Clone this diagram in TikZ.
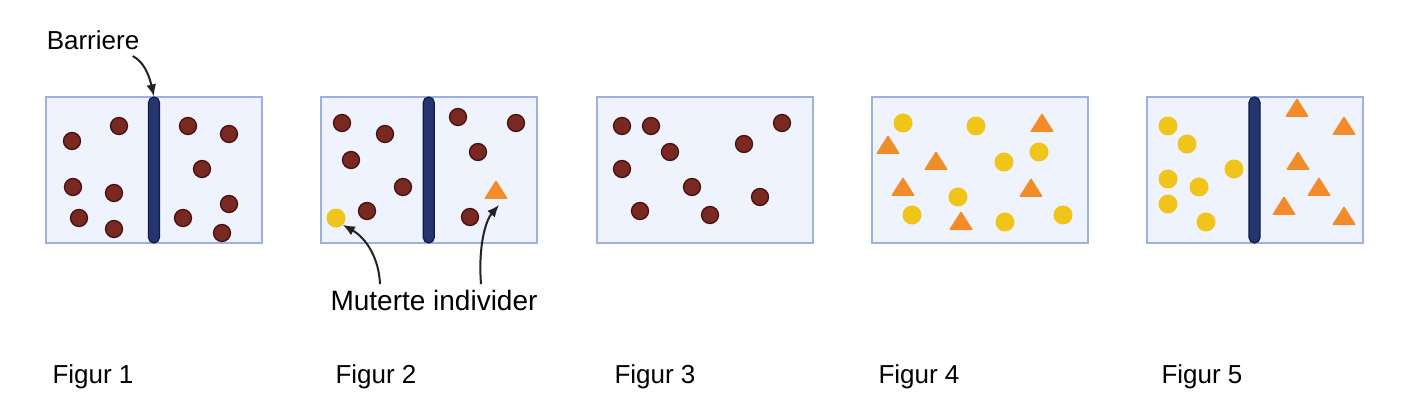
\documentclass[tikz,border=0pt]{standalone}
\usepackage{fontspec}
\setmainfont{Liberation Sans}
\usepackage{tikz}
\usetikzlibrary{arrows.meta,positioning,calc}
\definecolor{boxfill}{RGB}{238,243,253}
\definecolor{boxline}{RGB}{157,176,222}
\definecolor{navy}{RGB}{37,53,112}
\definecolor{navydark}{RGB}{18,26,64}
\definecolor{dotred}{RGB}{122,40,34}
\definecolor{dotrim}{RGB}{72,18,14}
\definecolor{mutyellow}{RGB}{240,196,25}
\definecolor{mutorange}{RGB}{242,140,40}
\definecolor{arrowgrey}{RGB}{34,34,34}

\begin{document}
\begin{tikzpicture}[x=1pt,y=-1pt,font=\fontsize{26}{30}\selectfont,>={Latex[length=12pt,width=10pt]},node distance=57.25pt]
  \tikzstyle{tank}=[draw=boxline,line width=2pt,fill=boxfill,minimum width=216pt,minimum height=146pt,inner sep=0pt]
  \tikzstyle{wall}=[draw=navydark,line width=1.2pt,fill=navy,rounded corners=5.5pt,minimum width=11pt,minimum height=146pt,inner sep=0pt]
  \tikzstyle{rdot}=[circle,draw=dotrim,line width=1.3pt,fill=dotred,minimum size=17pt,inner sep=0pt]
  \tikzstyle{ydot}=[circle,fill=mutyellow,minimum size=19pt,inner sep=0pt]
  \tikzstyle{arr}=[->,draw=arrowgrey,line width=2pt]
  \tikzset{tri/.pic={\fill[mutorange,rounded corners=1pt] (-12,9) -- (12,9) -- (0,-10) -- cycle;}}
  \useasboundingbox (0,0) rectangle (1413,414);

  \node[tank] (f1) at (154,170) {};
  \node[tank,right=of f1] (f2) {};
  \node[tank,right=of f2] (f3) {};
  \node[tank,right=of f3] (f4) {};
  \node[tank,right=of f4] (f5) {};

  \node[wall] (b1) at (f1.center) {};
  \node[wall] (b2) at ($(f2.center)+(-0.5,0)$) {};
  \node[wall] (b5) at ($(f5.center)+(-0.5,0)$) {};

  % figur 1
  \foreach \x/\y in {72/141,119/126,188/126,229/134,202/169,73/187,114/193,229/204,79/218,114/229,183/218,222/233}
    \node[rdot] at (\x,\y) {};
  % figur 2
  \foreach \x/\y in {342/123,385/134,351/160,403/187,367/211,458/117,516/123,478/152,470/217}
    \node[rdot] at (\x,\y) {};
  \node[ydot] (mutY) at (336,218) {};
  \pic at (496,190) {tri};
  \coordinate (mutT) at (499,205);
  % figur 3
  \foreach \x/\y in {622/126,651/126,782/123,670/152,744/144,622/169,692/187,760/197,640/211,710/215}
    \node[rdot] at (\x,\y) {};
  % figur 4
  \foreach \x/\y in {903/123,976/126,1039/152,1004/162,958/197,912/215,1005/222,1063/215}
    \node[ydot] at (\x,\y) {};
  \foreach \x/\y in {1042/123,888/145,936/161,903/187,1031/188,961/221}
    \pic at (\x,\y) {tri};
  % figur 5
  \foreach \x/\y in {1168/126,1187/144,1234/169,1168/179,1199/187,1168/204,1206/222}
    \node[ydot] at (\x,\y) {};
  \foreach \x/\y in {1297/108,1344/126,1298/161,1319/187,1284/206,1344/216}
    \pic at (\x,\y) {tri};

  \node (bar) at (93,40) {Barriere};
  \draw[arr] ($(bar.south east)+(-10,3)$) .. controls (144,62) and (149,75) .. (b1.north);

  \node[font=\fontsize{28}{32}\selectfont] (mut) at (434,300) {Muterte individer};
  \draw[arr] ($(mut.north)+(-54,-2)$) .. controls (379,258) and (366,238) .. (mutY.south east);
  \draw[arr] ($(mut.north)+(47,-2)$) .. controls (478,245) and (486,220) .. (mutT);

  \node[anchor=west] (l1) at (49,377) {Figur 1};
  \node[anchor=west] (l2) at (332,377) {Figur 2};
  \node[anchor=west] (l3) at (611,377) {Figur 3};
  \node[anchor=west] (l4) at (875,377) {Figur 4};
  \node[anchor=west] (l5) at (1158,377) {Figur 5};
\end{tikzpicture}
\end{document}
